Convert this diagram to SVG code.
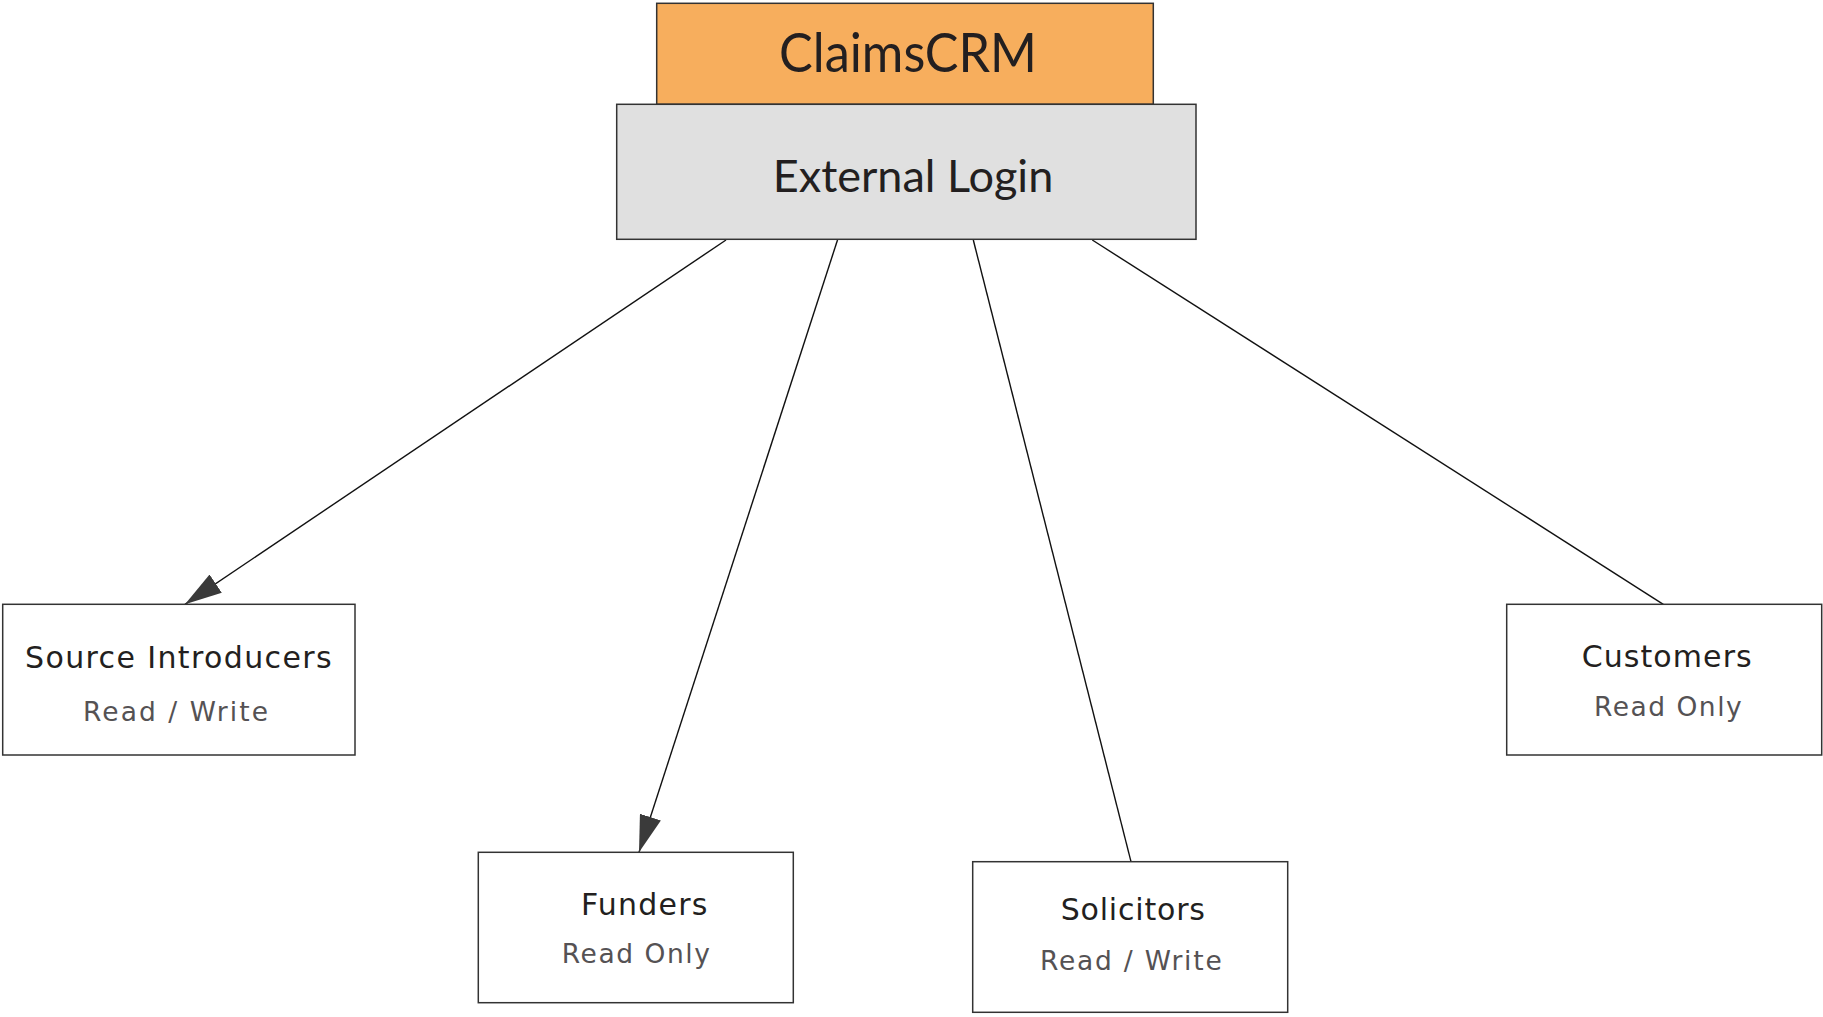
<svg xmlns="http://www.w3.org/2000/svg" width="1823" height="1017" viewBox="0 0 1823 1017">
<style>
.box{stroke:#333;stroke-width:1.5}
.top{font-family:Lato,"Open Sans",sans-serif;fill:#231f20}
.ttl{font-family:"DejaVu Sans",Verdana,sans-serif;font-size:30px;fill:#231f20}
.sub{font-family:"DejaVu Sans",Verdana,sans-serif;font-size:26.5px;fill:#555254}
.edge{stroke:#111;stroke-width:1.4;fill:none}
</style>
<defs>
<marker id="arr" markerUnits="userSpaceOnUse" markerWidth="38" markerHeight="22" refX="37" refY="11" orient="auto">
<path d="M0,0 L37,11 L0,22 z" fill="#3a3a3a"/>
</marker>
</defs>
<rect width="1823" height="1017" fill="#fff"/>
<g id="connectors">
<line class="edge" x1="726" y1="240" x2="185" y2="604.3" marker-end="url(#arr)"/>
<line class="edge" x1="837.5" y1="240" x2="639" y2="852.3" marker-end="url(#arr)"/>
<line class="edge" x1="973.3" y1="240" x2="1131" y2="861.7"/>
<line class="edge" x1="1092.3" y1="240" x2="1663.3" y2="604.3"/>
</g>
<g id="claimscrm">
<rect class="box" x="656.7" y="3.3" width="496.6" height="101" fill="#f7ae5d"/>
<text class="top" x="779" y="72.3" font-size="53.5" textLength="258" lengthAdjust="spacingAndGlyphs">ClaimsCRM</text>
</g>
<g id="external-login">
<rect class="box" x="616.7" y="104.3" width="579.3" height="135" fill="#e0e0e0"/>
<text class="top" x="772.7" y="192.3" font-size="45" textLength="280.6" lengthAdjust="spacingAndGlyphs">External Login</text>
</g>
<g id="source-introducers">
<rect class="box" x="2.7" y="604.3" width="352.3" height="150.7" fill="#fff"/>
<text class="ttl" x="25" y="667.7" textLength="306.7" lengthAdjust="spacing">Source Introducers</text>
<text class="sub" x="83" y="720.5" textLength="185" lengthAdjust="spacing">Read / Write</text>
</g>
<g id="funders">
<rect class="box" x="478.3" y="852.3" width="315" height="150.4" fill="#fff"/>
<text class="ttl" x="581" y="915" textLength="126.3" lengthAdjust="spacing">Funders</text>
<text class="sub" x="561.7" y="963.3" textLength="148.3" lengthAdjust="spacing">Read Only</text>
</g>
<g id="solicitors">
<rect class="box" x="972.7" y="861.7" width="315" height="150.6" fill="#fff"/>
<text class="ttl" x="1060.7" y="920" textLength="144.3" lengthAdjust="spacing">Solicitors</text>
<text class="sub" x="1040" y="970" textLength="181.7" lengthAdjust="spacing">Read / Write</text>
</g>
<g id="customers">
<rect class="box" x="1506.7" y="604.3" width="315" height="150.7" fill="#fff"/>
<text class="ttl" x="1581.7" y="667.3" textLength="170" lengthAdjust="spacing">Customers</text>
<text class="sub" x="1594" y="716" textLength="147.7" lengthAdjust="spacing">Read Only</text>
</g>
</svg>
